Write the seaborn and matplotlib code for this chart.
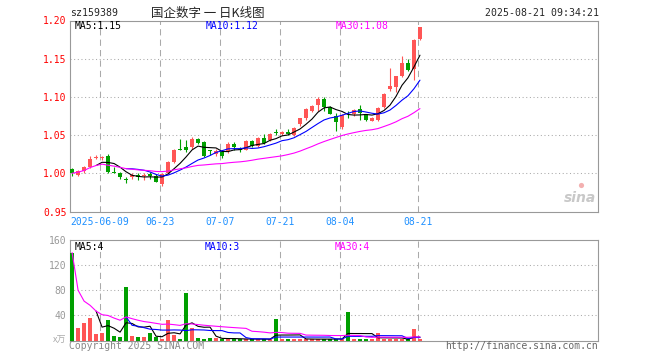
import numpy as np
import pandas as pd
import matplotlib
matplotlib.use('Agg')
import matplotlib.pyplot as plt
import seaborn as sns

# daily bars of sz159389, one per trading day, last one is 2025-08-21
opens = [1.005, 0.998, 1.003, 1.008, 1.020, 1.020, 1.023, 1.002, 1.001, 0.992,
         0.995, 0.998, 0.996, 0.999, 0.996, 0.986, 1.001, 1.015, 1.032, 1.035,
         1.034, 1.045, 1.041, 1.030, 1.025, 1.029, 1.029, 1.038, 1.032, 1.031,
         1.042, 1.036, 1.046, 1.044, 1.054, 1.052, 1.054, 1.050, 1.064, 1.072,
         1.081, 1.089, 1.097, 1.087, 1.075, 1.060, 1.078, 1.077, 1.084, 1.077,
         1.069, 1.070, 1.087, 1.110, 1.113, 1.128, 1.144, 1.136, 1.176]
highs = [1.007, 1.004, 1.010, 1.022, 1.024, 1.023, 1.025, 1.008, 1.002, 0.995,
         1.000, 1.001, 1.001, 1.002, 0.999, 1.001, 1.016, 1.032, 1.045, 1.044,
         1.048, 1.046, 1.042, 1.031, 1.032, 1.031, 1.041, 1.041, 1.035, 1.044,
         1.043, 1.047, 1.051, 1.053, 1.058, 1.055, 1.058, 1.061, 1.073, 1.086,
         1.089, 1.100, 1.100, 1.088, 1.079, 1.077, 1.081, 1.084, 1.089, 1.078,
         1.074, 1.087, 1.105, 1.138, 1.128, 1.153, 1.149, 1.176, 1.192]
lows = [0.997, 0.997, 1.001, 1.007, 1.019, 1.018, 1.000, 1.000, 0.993, 0.987,
        0.993, 0.991, 0.991, 0.992, 0.988, 0.983, 0.999, 1.014, 1.030, 1.028,
        1.032, 1.039, 1.021, 1.024, 1.023, 1.020, 1.027, 1.030, 1.028, 1.030,
        1.034, 1.035, 1.039, 1.042, 1.050, 1.050, 1.050, 1.049, 1.062, 1.070,
        1.080, 1.081, 1.081, 1.077, 1.056, 1.058, 1.073, 1.075, 1.070, 1.069,
        1.068, 1.068, 1.085, 1.108, 1.106, 1.126, 1.134, 1.122, 1.174]
closes = [1.000, 1.003, 1.008, 1.019, 1.021, 1.021, 1.002, 1.001, 0.995, 0.991,
          0.998, 0.995, 0.997, 0.996, 0.989, 0.999, 1.015, 1.031, 1.031, 1.031,
          1.045, 1.040, 1.023, 1.029, 1.029, 1.022, 1.039, 1.034, 1.031, 1.042,
          1.036, 1.046, 1.040, 1.052, 1.053, 1.054, 1.052, 1.059, 1.072, 1.084,
          1.088, 1.097, 1.087, 1.078, 1.067, 1.076, 1.077, 1.083, 1.079, 1.070,
          1.072, 1.086, 1.104, 1.114, 1.127, 1.145, 1.135, 1.175, 1.191]
# volume in 万
volumes = [140, 20, 28, 36, 10, 12.5, 32, 7, 5, 85,
           6.5, 5, 5, 12, 5.5, 2.7, 32, 9.5, 3, 76,
           20, 4, 2.5, 4, 4, 2.5, 2.5, 2.5, 2.5, 2,
           2, 2.5, 2, 2, 34, 3, 2.5, 2.5, 2.5, 2,
           2, 2, 2.5, 2.5, 3, 2, 46, 2, 2.5, 2.5,
           2, 12.5, 2, 2, 2, 2, 2, 18.5, 2]

date_pos = [5, 15, 25, 35, 45, 58]
date_labels = ['2025-06-09', '06-23', '07-07', '07-21', '08-04', '08-21']
price_ticks = [0.95, 1.00, 1.05, 1.10, 1.15, 1.20]
vol_ticks = [40, 80, 120, 160]

RED = '#ff5555'
GREEN = '#009f00'
GRID = '#aaaaaa'
FRAME = '#999999'

sns.set_style('white')
plt.rcParams['font.family'] = ['DejaVu Sans Mono', 'Noto Sans CJK SC']

df = pd.DataFrame({'open': opens, 'high': highs, 'low': lows,
                   'close': closes, 'vol': volumes})
df['idx'] = np.arange(len(df))
df['dir'] = np.where(df['close'] >= df['open'], 'up', 'down')
df['color'] = np.where(df['dir'] == 'up', RED, GREEN)
df['ma5'] = df['close'].rolling(5).mean()
df['ma10'] = df['close'].rolling(10).mean()
df['ma30'] = df['close'].rolling(30, min_periods=1).mean()
df['vma5'] = df['vol'].rolling(5).mean()
df['vma10'] = df['vol'].rolling(10).mean()
df['vma30'] = df['vol'].rolling(30, min_periods=1).mean()

W, H = 660, 360
fig = plt.figure(figsize=(6.6, 3.6), dpi=100)


def box(l, t, r, b):
    return [l / W, 1 - b / H, (r - l) / W, (b - t) / H]


def ftext(x, y, s, **kw):
    fig.text(x / W, 1 - y / H, s, va='center', **kw)


ax = fig.add_axes(box(70, 20.5, 597.5, 211.5))
axv = fig.add_axes(box(70, 240, 597.5, 340.5))

# candles
ax.vlines(df['idx'], df['low'], df['high'], colors=df['color'], lw=0.8, zorder=3)
body = np.maximum((df['close'] - df['open']).abs(), 0.0012)
ax.bar(df['idx'], body, bottom=np.minimum(df['open'], df['close']),
       width=0.8, color=df['color'], linewidth=0, zorder=4)

sns.lineplot(x='idx', y='ma5', data=df, color='black', lw=0.8, ax=ax, zorder=5)
sns.lineplot(x='idx', y='ma10', data=df, color='#0000ff', lw=0.8, ax=ax, zorder=5)
sns.lineplot(x='idx', y='ma30', data=df, color='#ff00ff', lw=0.8, ax=ax, zorder=5)

# volume
sns.barplot(x='idx', y='vol', hue='dir', data=df, palette={'up': RED, 'down': GREEN},
            native_scale=True, dodge=False, width=0.8, legend=False, saturation=1,
            linewidth=0, errorbar=None, ax=axv, zorder=3)
sns.lineplot(x='idx', y='vma5', data=df, color='black', lw=0.8, ax=axv, zorder=5)
sns.lineplot(x='idx', y='vma10', data=df, color='#0000ff', lw=0.8, ax=axv, zorder=5)
sns.lineplot(x='idx', y='vma30', data=df, color='#ff00ff', lw=0.8, ax=axv, zorder=5)

grid_x = [p - 0.35 for p in date_pos]
for a in (ax, axv):
    a.set_xlim(-0.35, 87.6)
    for gx in grid_x:
        a.axvline(gx, color=GRID, lw=0.75, ls=(0, (6, 4)), zorder=1)
    for s in a.spines.values():
        s.set_color(FRAME)
        s.set_linewidth(0.8)
    a.set_xlabel('')
    a.set_ylabel('')
    a.tick_params(length=0, labelsize=7, pad=2.5)

ax.set_ylim(0.95, 1.20)
for p in price_ticks[1:-1]:
    ax.axhline(p, color=GRID, lw=0.75, ls=(0, (1, 2.5)), zorder=1)
ax.set_yticks(price_ticks)
ax.set_yticklabels([f'{p:.2f}' for p in price_ticks], color='#ff0000')
ax.set_xticks(grid_x)
ax.set_xticklabels(date_labels, color='#1e90ff')
ax.tick_params(axis='x', pad=4)

axv.set_ylim(0, 160)
for v in vol_ticks[:-1]:
    axv.axhline(v, color=GRID, lw=0.75, ls=(0, (1, 2.5)), zorder=1)
axv.set_yticks(vol_ticks)
axv.set_yticklabels([str(v) for v in vol_ticks], color='#999999')
axv.set_xticks([])

# header
ftext(70, 13, 'sz159389', fontsize=7.1)
ftext(151, 13, '国企数字 一 日K线图', fontsize=9, family=['Noto Sans CJK SC'])
ftext(599, 13, '2025-08-21 09:34:21', fontsize=7.1, ha='right')

# MA legends
ftext(75, 26, 'MA5:1.15', fontsize=7, color='black')
ftext(206, 26, 'MA10:1.12', fontsize=7, color='#0000ff')
ftext(336, 26, 'MA30:1.08', fontsize=7, color='#ff00ff')
ftext(75, 246.5, 'MA5:4', fontsize=7, color='black')
ftext(205, 246.5, 'MA10:3', fontsize=7, color='#0000ff')
ftext(335, 246.5, 'MA30:4', fontsize=7, color='#ff00ff')

ftext(66, 340, 'x万', fontsize=6.5, ha='right', color='#aaaaaa',
      style='italic', family=['Noto Sans CJK SC'])
ftext(69, 346, 'Copyright 2025 SINA.COM', fontsize=7, color='#888888')
ftext(597.5, 346, 'http://finance.sina.com.cn', fontsize=7, ha='right', color='#666666')

# watermark
ftext(580, 198, 'sina', fontsize=10, ha='center', color='#c8c8c8',
      style='italic', weight='bold', family=['DejaVu Sans'])
ax.scatter([0.968], [0.14], s=14, color='#f3b0b0', transform=ax.transAxes,
           zorder=2, linewidths=0)

fig.savefig('out.png', dpi=100)
